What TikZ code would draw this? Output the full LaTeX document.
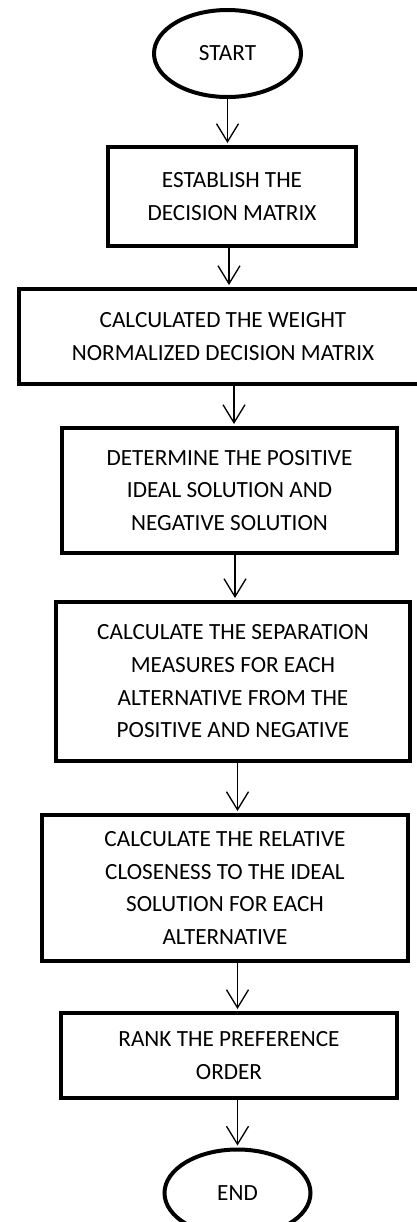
\documentclass[tikz,border=0pt]{standalone}
\usepackage{fontspec}
\setmainfont{Carlito}
\usetikzlibrary{arrows.meta,shapes.geometric}

\tikzset{
  stepbox/.style={draw, line width=3pt, rectangle, align=center, inner sep=2pt,
    font=\fontsize{17.4}{24.5}\selectfont},
  termnode/.style={draw, line width=3pt, ellipse, inner sep=0pt,
    font=\fontsize{17.4}{24.5}\selectfont},
  flow/.style={line width=1pt, -{Straight Barb[length=13.5pt, width=16.5pt, line width=1pt]}, shorten >=1.5pt}
}

\begin{document}
\begin{tikzpicture}[x=0.75pt,y=0.75pt,yscale=-1,xscale=1]
\clip (0,0) rectangle (417,1222);

%Shape: Ellipse [start]
\node [termnode, minimum width=110.25pt, minimum height=65.25pt] (start) at (227.5,53.5) {START};
%Shape: Rectangle [box1]
\node [stepbox, minimum width=186pt, minimum height=74.25pt] (establish) at (232,196.5) {ESTABLISH THE\\DECISION MATRIX};
%Shape: Rectangle [box2]
\node [stepbox, minimum width=306pt, minimum height=71.25pt] (weight) at (223,336.5) {CALCULATED THE WEIGHT\\NORMALIZED DECISION MATRIX};
%Shape: Rectangle [box3]
\node [stepbox, minimum width=251.25pt, minimum height=93.75pt] (ideal) at (229.5,490.5) {DETERMINE THE POSITIVE\\IDEAL SOLUTION AND\\NEGATIVE SOLUTION};
%Shape: Rectangle [box4]
\node [stepbox, minimum width=265.5pt, minimum height=119.25pt] (separation) at (233,681.5) {CALCULATE THE SEPARATION\\MEASURES FOR EACH\\ALTERNATIVE FROM THE\\POSITIVE AND NEGATIVE};
%Shape: Rectangle [box5]
\node [stepbox, minimum width=274.5pt, minimum height=109.5pt] (closeness) at (225,888) {CALCULATE THE RELATIVE\\CLOSENESS TO THE IDEAL\\SOLUTION FOR EACH\\ALTERNATIVE};
%Shape: Rectangle [box6]
\node [stepbox, minimum width=252pt, minimum height=63.75pt] (rank) at (229,1055.5) {RANK THE PREFERENCE\\ORDER};
%Shape: Ellipse [end]
\node [termnode, minimum width=109.5pt, minimum height=65.25pt] (end) at (237.5,1193) {END};

%Straight Lines
\draw [flow] (start.south) -- (start.south |- establish.north);
\draw [flow] ([xshift=-2.25pt]establish.south) -- ([xshift=-2.25pt]establish.south |- weight.north);
\draw [flow] ([xshift=8.25pt]weight.south) -- ([xshift=8.25pt]weight.south |- ideal.north);
\draw [flow] ([xshift=1.5pt]separation.north |- ideal.south) -- ([xshift=1.5pt]separation.north);
\draw [flow] (separation.south -| end.north) -- (closeness.north -| end.north);
\draw [flow] (closeness.south -| end.north) -- (rank.north -| end.north);
\draw [flow] (rank.south -| end.north) -- (end.north);
\end{tikzpicture}
\end{document}
